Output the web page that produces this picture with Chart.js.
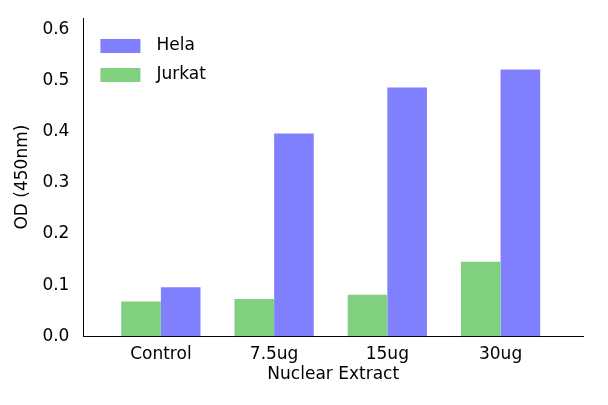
<!DOCTYPE html><html><head><script src="https://cdn.jsdelivr.net/npm/chart.js"></script>
<style>body{margin:0;background:#fff}#w{width:608px;height:405px}</style></head><body><div id="w"><canvas id="c"></canvas></div>
<script>
const categories=["Control","7.5ug","15ug","30ug"];
const jurkat=[0.068,0.073,0.081,0.146];
const hela=[0.096,0.397,0.487,0.522];
const yTicks=[0,0.1,0.2,0.3,0.4,0.5,0.6];
const font={family:"DejaVu Sans",size:17};
const legendPlugin={id:'lg',afterDraw(ch){const c=ch.ctx,a=ch.chartArea;c.save();c.font="17px DejaVu Sans";c.textBaseline="middle";
[["Hela","#8080ff"],["Jurkat","#80d080"]].forEach((d,i)=>{const y=a.top+28+i*29;c.fillStyle=d[1];c.fillRect(a.left+17,y-7,40,14);c.fillStyle="#000";c.fillText(d[0],a.left+73,y);});c.restore();}};
new Chart(document.getElementById('c'),{type:'bar',
data:{datasets:[
{label:"Jurkat",data:jurkat.map((v,i)=>({x:i,y:v})),backgroundColor:"#80d080",categoryPercentage:0.7,barPercentage:1},
{label:"Hela",data:hela.map((v,i)=>({x:i,y:v})),backgroundColor:"#8080ff",categoryPercentage:0.7,barPercentage:1}]},
options:{responsive:true,maintainAspectRatio:false,animation:false,
layout:{padding:{top:18,right:25,bottom:16,left:8}},
plugins:{legend:{display:false},tooltip:{enabled:false}},
scales:{
x:{type:'linear',min:-0.684,max:3.728,offset:false,afterBuildTicks:s=>{s.ticks=categories.map((_,i)=>({value:i}))},
ticks:{font,color:"#000",callback:v=>categories[v],maxRotation:0,padding:0},grid:{display:false},border:{color:"#000"},
title:{display:true,text:"Nuclear Extract",font,color:"#000",padding:{top:0}}},
y:{min:0,max:0.623,afterBuildTicks:s=>{s.ticks=yTicks.map(v=>({value:v}))},
ticks:{font,color:"#000",callback:v=>v.toFixed(1),padding:6},grid:{display:false},border:{color:"#000"},
title:{display:true,text:"OD (450nm)",font,color:"#000",padding:{bottom:4}}}}},
plugins:[legendPlugin]});
</script></body></html>
